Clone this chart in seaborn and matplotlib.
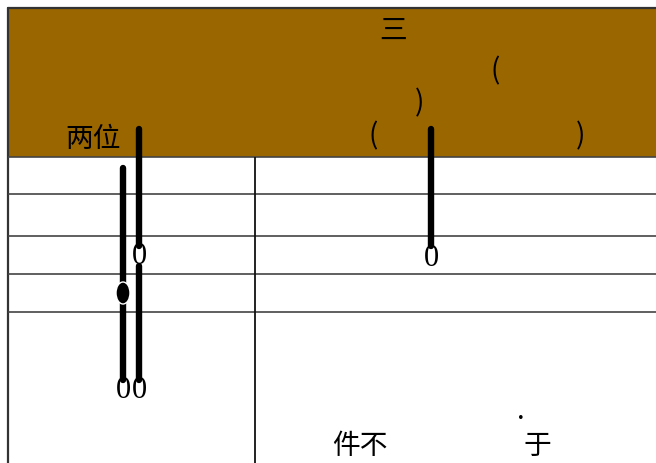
import matplotlib
matplotlib.use("Agg")
import matplotlib.pyplot as plt
from matplotlib.patches import Rectangle, Ellipse
import seaborn as sns

# table grid (pixel coords of the picture)
row_lines = [157, 194, 236, 274, 312]
col_lines = [255]
header_color = "#996600"

# vertical strokes: x, top, bottom
stroke_x = [123, 139, 139, 431]
stroke_top = [168, 129, 266, 129]
stroke_bottom = [380, 246, 380, 246]

# blob on the first stroke
blob_x = [123]
blob_y = [293]

# serif zeros
zero_x = [123, 139, 139, 431]
zero_y = [391, 391, 257, 258]

# cjk labels
labels = ["两位", "三", "(", ")", "(", ")", "件不", "于", "."]
label_x = [93, 393, 495, 420, 373, 581, 360, 537, 521]
label_y = [139, 31, 71, 103, 136, 136, 446, 446, 411]

sns.set_style("white")
plt.rcParams["font.family"] = ["Noto Sans CJK SC", "DejaVu Sans"]
plt.rcParams["text.color"] = "black"

fig = plt.figure(figsize=(6.56, 4.63), dpi=100)
ax = fig.add_axes([0, 0, 1, 1])
ax.set_xlim(0, 656)
ax.set_ylim(463, 0)
ax.axis("off")

# header + borders
ax.add_patch(Rectangle((8, 8), 660, row_lines[0] - 8, facecolor=header_color,
                       edgecolor="none", zorder=1))
ax.plot([8, 8], [8, 463], color="#333333", lw=1.6, zorder=2)
ax.plot([8, 656], [8, 8], color="#333333", lw=1.6, zorder=2)
ax.hlines(row_lines, 8, 656, color="#444444", lw=1.2, zorder=2)
ax.vlines(col_lines, row_lines[0], 463, color="#111111", lw=1.3, zorder=2)

lc = ax.vlines(stroke_x, stroke_top, stroke_bottom, color="black", lw=4.6, zorder=3)
lc.set_capstyle("round")

for x, y in zip(blob_x, blob_y):
    ax.add_patch(Ellipse((x, y), 14, 22, facecolor="black", zorder=4))

for x, y in zip(zero_x, zero_y):
    ax.text(x, y, "0", family="Liberation Serif", fontsize=22,
            ha="center", va="center", zorder=5)

for t, x, y in zip(labels, label_x, label_y):
    ax.text(x, y, t, fontsize=20, ha="center", va="center", zorder=5)

fig.savefig("out.png", dpi=100)
